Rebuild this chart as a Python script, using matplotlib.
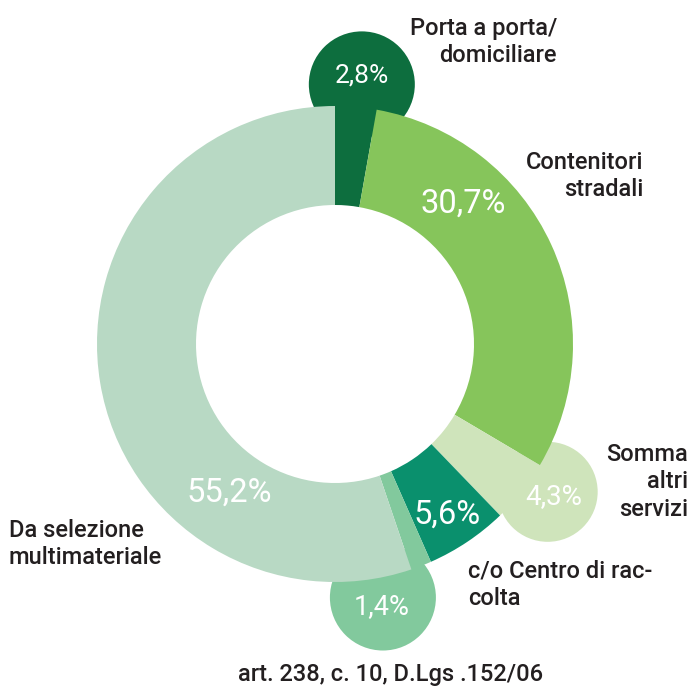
import numpy as np
import matplotlib
matplotlib.use("Agg")
import matplotlib.pyplot as plt
from matplotlib.patches import Circle

plt.rcParams['font.family'] = ['Roboto', 'DejaVu Sans']

# clockwise from 12 o'clock
shares = [2.8, 30.7, 4.3, 5.6, 1.4, 55.2]
names = ["Porta a porta/\ndomiciliare",
         "Contenitori\nstradali",
         "Somma\naltri\nservizi",
         "c/o Centro di rac-\ncolta",
         "art. 238, c. 10, D.Lgs .152/06",
         "Da selezione\nmultimateriale"]
colors = ["#0d6e3e", "#86c55b", "#cfe4bb", "#0a906d", "#82c99d", "#b8d9c4"]

W, H = 692, 686
cx, cy = 335, H - 344
R_OUT, RING = 238, 99

# bubbles for the thin slices: index -> (distance, angle, radius)
bubbles = {0: (261, 84.1, 53), 2: (259, -34.8, 50), 4: (258, -79.3, 53)}
# percentage labels: (distance, angle, fontsize)
pct_pos = [(270, 84.3, 19), (190, 47.6, 23.5), (267, -34.8, 20),
           (204, -56.8, 23.5), (267, -79.9, 19.5), (182, 234.6, 23.5)]
# category labels: (x, y from top, ha)
name_pos = [(557, 42, "right"), (643, 176, "right"), (688, 482, "right"),
            (468, 585, "left"), (391, 675, "center"), (9, 544, "left")]

fig = plt.figure(figsize=(W / 100, H / 100), dpi=100)
ax = fig.add_axes([0, 0, 1, 1])

for i, (d, a, r) in bubbles.items():
    t = np.deg2rad(a)
    ax.add_patch(Circle((cx + d * np.cos(t), cy + d * np.sin(t)), r,
                        facecolor=colors[i], edgecolor="none", zorder=1))

wedges, _ = ax.pie(shares, colors=colors, startangle=90, counterclock=False,
                   radius=R_OUT, center=(cx, cy),
                   wedgeprops=dict(width=RING, linewidth=0, edgecolor="none"))
for w in wedges:
    w.set_zorder(2)

for v, (d, a, fs) in zip(shares, pct_pos):
    t = np.deg2rad(a)
    ax.text(cx + d * np.cos(t), cy + d * np.sin(t),
            f"{v:.1f}%".replace(".", ","), color="white", fontsize=fs,
            ha="center", va="center", zorder=3)

for name, (x, y, ha) in zip(names, name_pos):
    ax.text(x, H - y, name, color="#231f20", fontsize=17, fontweight="medium",
            ha=ha, va="center", multialignment=ha, linespacing=1.27, zorder=3)

ax.set_xlim(0, W)
ax.set_ylim(0, H)
ax.set_aspect("equal")
ax.axis("off")

fig.savefig("out.png", dpi=100, facecolor="white")
